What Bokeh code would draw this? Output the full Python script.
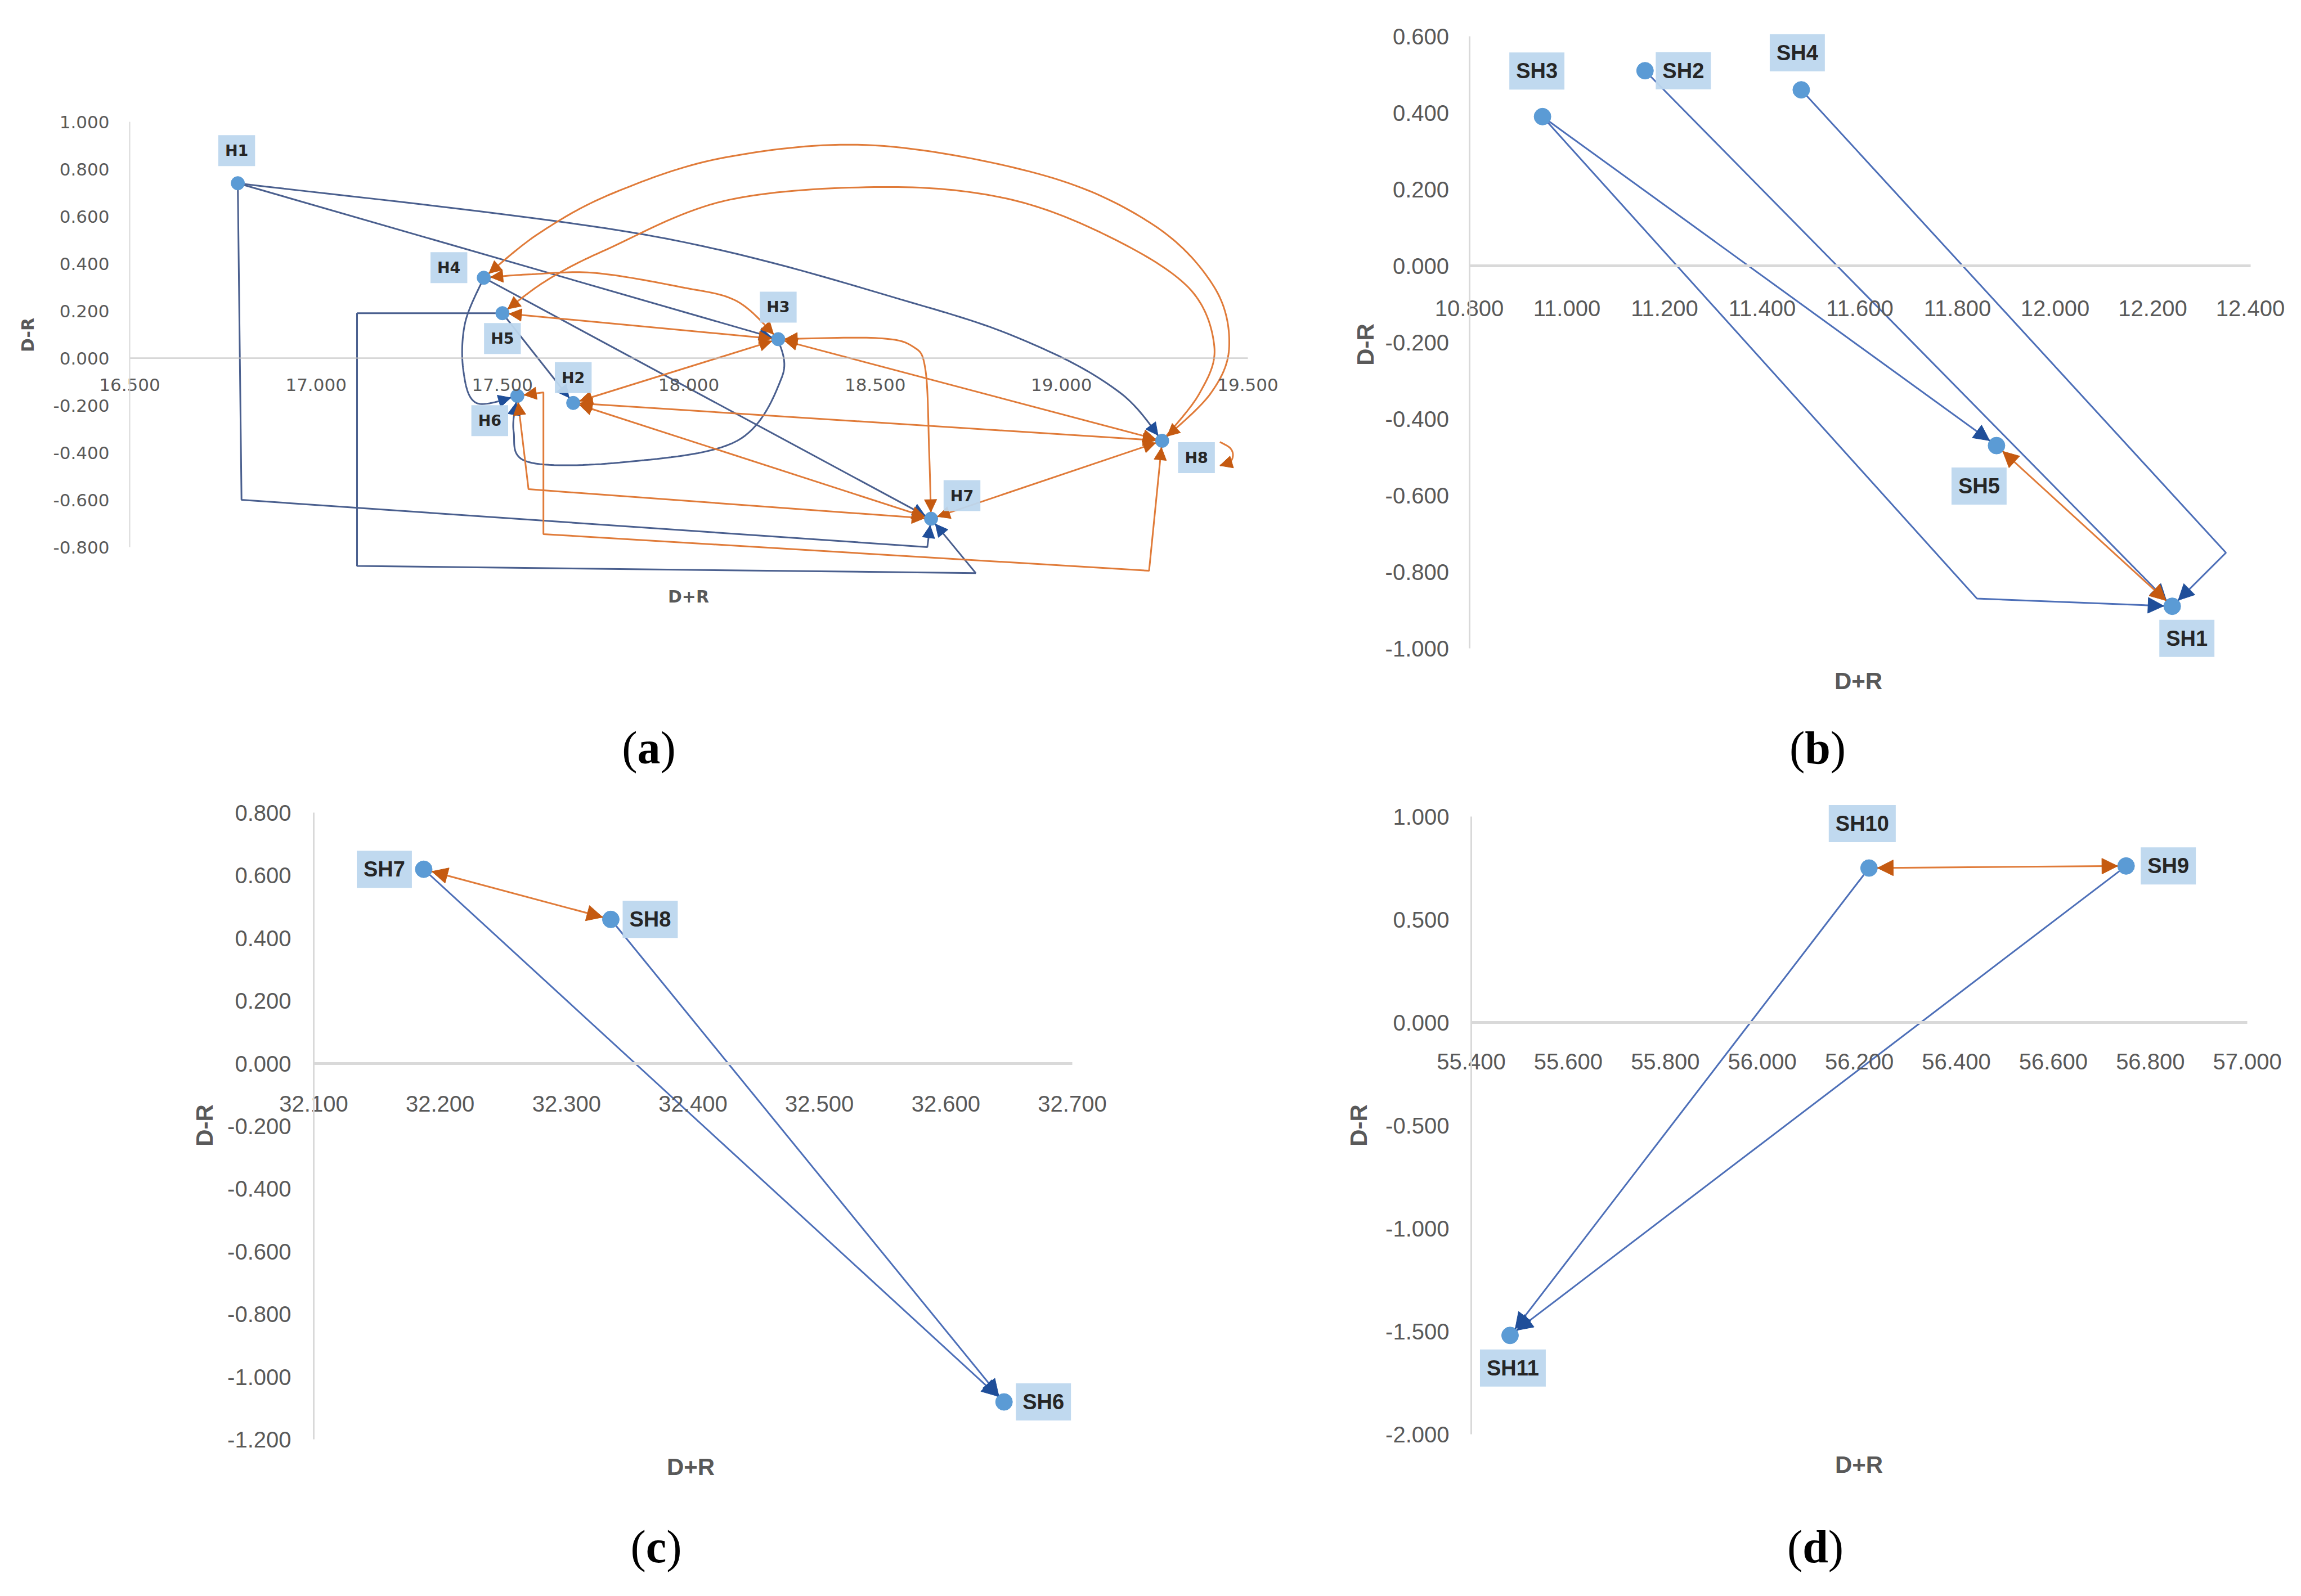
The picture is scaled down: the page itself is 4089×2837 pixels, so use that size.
import numpy as np
from bokeh.plotting import figure
from bokeh.models import (Range1d, LinearAxis, FixedTicker, NumeralTickFormatter,
                          Arrow, NormalHead, Label, Div, ColumnDataSource, Spacer)
from bokeh.layouts import column, row
from bokeh.embed import file_html
from bokeh.resources import INLINE

# ======================= DATA =======================
# ---- panel (a) ----
a_nodes = ["H1", "H2", "H3", "H4", "H5", "H6", "H7", "H8"]
a_sum = [16.79, 17.69, 18.24, 17.45, 17.50, 17.54, 18.65, 19.27]     # D+R
a_diff = [0.74, -0.19, 0.08, 0.34, 0.19, -0.16, -0.68, -0.35]        # D-R
a_xticks = [16.5, 17.0, 17.5, 18.0, 18.5, 19.0, 19.5]
a_yticks = [-0.8, -0.6, -0.4, -0.2, 0.0, 0.2, 0.4, 0.6, 0.8, 1.0]
# (from, to, shape, route points, arrow heads)
a_blue_edges = [
    ("H1", "H3", "line", [], "end"),
    ("H1", "H8", "curve", [(17.89, 0.52), (18.63, 0.22), (18.95, 0.04), (19.16, -0.15)], "end"),
    ("H1", "H7", "elbow", [(16.80, -0.60), (18.64, -0.80)], "end"),
    ("H4", "H7", "line", [], "end"),
    ("H4", "H6", "curve", [(17.40, 0.15), (17.395, -0.05), (17.43, -0.19)], "end"),
    ("H5", "H2", "line", [], "end"),
    ("H5", "H7", "elbow", [(17.11, 0.19), (17.11, -0.88), (18.77, -0.91)], "end"),
    ("H3", "H6", "curve", [(18.25, -0.08), (18.13, -0.35), (17.83, -0.44), (17.57, -0.44), (17.53, -0.31)], "end"),
]
a_orange_edges = [
    ("H4", "H3", "curve", [(17.58, 0.355), (17.75, 0.36), (17.98, 0.30), (18.13, 0.24)], "both"),
    ("H5", "H3", "line", [], "both"),
    ("H2", "H3", "line", [], "both"),
    ("H2", "H8", "line", [], "both"),
    ("H3", "H8", "line", [], "both"),
    ("H2", "H7", "line", [], "both"),
    ("H7", "H8", "line", [], "both"),
    ("H3", "H7", "curve", [(18.50, 0.085), (18.60, 0.05), (18.635, -0.05), (18.645, -0.40)], "both"),
    ("H7", "H6", "elbow", [(17.57, -0.555)], "both"),
    ("H8", "H6", "elbow", [(19.235, -0.90), (17.61, -0.745), (17.61, -0.145)], "both"),
    ("H8", "H4", "curve", [(19.40, -0.15), (19.45, 0.05), (19.41, 0.30), (19.25, 0.56), (18.96, 0.77),
                           (18.50, 0.90), (18.10, 0.85), (17.80, 0.70), (17.60, 0.53)], "both"),
    ("H8", "H5", "curve", [(19.37, -0.15), (19.41, 0.05), (19.34, 0.30), (19.12, 0.52), (18.85, 0.676),
                           (18.52, 0.724), (18.10, 0.667), (17.78, 0.46), (17.62, 0.33)], "end"),
    ("H8", "H8", "loop", [(19.425, -0.355), (19.452, -0.38), (19.46, -0.41), (19.452, -0.44), (19.425, -0.455)], "end"),
]

# ---- panel (b) ----
b_nodes = ["SH1", "SH2", "SH3", "SH4", "SH5"]
b_sum = [12.24, 11.16, 10.95, 11.48, 11.88]
b_diff = [-0.89, 0.51, 0.39, 0.46, -0.47]
b_xticks = [10.8, 11.0, 11.2, 11.4, 11.6, 11.8, 12.0, 12.2, 12.4]
b_yticks = [-1.0, -0.8, -0.6, -0.4, -0.2, 0.0, 0.2, 0.4, 0.6]
b_blue_edges = [
    ("SH3", "SH5", "line", [], "end"),
    ("SH2", "SH1", "line", [], "end"),
    ("SH4", "SH1", "elbow", [(12.35, -0.75)], "end"),
    ("SH3", "SH1", "elbow", [(11.84, -0.87)], "end"),
]
b_orange_edges = [("SH5", "SH1", "line", [], "both")]

# ---- panel (c) ----
c_nodes = ["SH6", "SH7", "SH8"]
c_sum = [32.646, 32.187, 32.335]
c_diff = [-1.08, 0.62, 0.46]
c_xticks = [32.1, 32.2, 32.3, 32.4, 32.5, 32.6, 32.7]
c_yticks = [-1.2, -1.0, -0.8, -0.6, -0.4, -0.2, 0.0, 0.2, 0.4, 0.6, 0.8]
c_blue_edges = [("SH7", "SH6", "line", [], "end"), ("SH8", "SH6", "line", [], "end")]
c_orange_edges = [("SH7", "SH8", "line", [], "both")]

# ---- panel (d) ----
d_nodes = ["SH9", "SH10", "SH11"]
d_sum = [56.75, 56.22, 55.48]
d_diff = [0.76, 0.75, -1.52]
d_xticks = [55.4, 55.6, 55.8, 56.0, 56.2, 56.4, 56.6, 56.8, 57.0]
d_yticks = [-2.0, -1.5, -1.0, -0.5, 0.0, 0.5, 1.0]
d_blue_edges = [("SH10", "SH11", "line", [], "end"), ("SH9", "SH11", "line", [], "end")]
d_orange_edges = [("SH9", "SH10", "line", [], "both")]

# ======================= STYLE =======================
MARKER = "#5B9BD5"
LABEL_BG = "#BDD7EE"
BLUE_HEAD = "#1F4E99"
ORANGE_LINE = "#E07B39"
ORANGE_HEAD = "#C55A11"
TICK_COLOR = "#595959"


def catmull(pts, n=18):
    P = [np.array(q, dtype=float) for q in pts]
    P = [P[0]] + P + [P[-1]]
    out = []
    for i in range(1, len(P) - 2):
        p0, p1, p2, p3 = P[i - 1], P[i], P[i + 1], P[i + 2]
        for t in np.linspace(0, 1, n, endpoint=False):
            t2, t3 = t * t, t * t * t
            out.append(0.5 * (2 * p1 + (-p0 + p2) * t + (2 * p0 - 5 * p1 + 4 * p2 - p3) * t2
                              + (-p0 + 3 * p1 - 3 * p2 + p3) * t3))
    out.append(P[-2])
    return out


def make_panel(names, xs, ys, blue_edges, orange_edges, xticks, yticks, lab_dx, lab_dy, st):
    W, H = st["W"], st["H"]
    kx, ky = st["kx"], st["ky"]                      # pixels per data unit
    x0 = xticks[0] - st["ax_px"] / kx               # y axis (x = first tick) sits ax_px from left
    x1 = x0 + W / kx
    y1 = st["ay_px"] / ky                           # D-R = 0 sits ay_px from top
    y0 = y1 - H / ky
    to_px = lambda x, y: np.array([(x - x0) * kx, (y - y0) * ky])
    to_dt = lambda q: ((q[0] / kx) + x0, (q[1] / ky) + y0)

    p = figure(width=W, height=H, x_range=Range1d(x0, x1), y_range=Range1d(y0, y1),
               x_axis_location=None, y_axis_location=None,
               output_backend="svg", toolbar_location=None,
               min_border=0, min_border_left=0, min_border_right=0,
               min_border_top=0, min_border_bottom=0,
               background_fill_color="white", border_fill_color="white")
    p.outline_line_color = None
    p.grid.visible = False

    # ---- y axis at D+R = first tick ----
    yax = LinearAxis(fixed_location=xticks[0], ticker=FixedTicker(ticks=yticks),
                     formatter=NumeralTickFormatter(format="0.000"),
                     bounds=(min(yticks), max(yticks)))
    yax.axis_line_color = "#D9D9D9"
    yax.axis_line_width = st["yaxw"]
    yax.major_tick_line_color = None
    yax.minor_tick_line_color = None
    yax.major_tick_in = 0
    yax.major_tick_out = 0
    yax.major_label_standoff = st["ylab_so"]
    yax.major_label_text_font = st["tick_font"]
    yax.major_label_text_font_size = st["tick_size"]
    yax.major_label_text_color = TICK_COLOR
    p.add_layout(yax, "left")

    # ---- x axis at D-R = 0 ----
    xax = LinearAxis(fixed_location=0, ticker=FixedTicker(ticks=xticks),
                     formatter=NumeralTickFormatter(format="0.000"),
                     bounds=(xticks[0], xticks[-1]))
    xax.axis_line_color = st["xaxc"]
    xax.axis_line_width = st["xaxw"]
    xax.major_tick_line_color = None
    xax.minor_tick_line_color = None
    xax.major_tick_in = 0
    xax.major_tick_out = 0
    xax.major_label_standoff = st["xlab_so"]
    xax.major_label_text_font = st["tick_font"]
    xax.major_label_text_font_size = st["tick_size"]
    xax.major_label_text_color = TICK_COLOR
    p.add_layout(xax, "below")

    # ---- axis titles ----
    tx, ty = st["dr_pos"]
    p.add_layout(Label(x=x0 + tx / kx, y=y1 - ty / ky, text="D-R", angle=np.pi / 2,
                       text_align="center", text_baseline="middle",
                       text_font=st["title_font"], text_font_size=st["title_size"],
                       text_font_style="bold", text_color=TICK_COLOR))
    tx, ty = st["ds_pos"]
    p.add_layout(Label(x=x0 + tx / kx, y=y1 - ty / ky, text="D+R",
                       text_align="center", text_baseline="middle",
                       text_font=st["title_font"], text_font_size=st["title_size"],
                       text_font_style="bold", text_color=TICK_COLOR))

    nodes = {n: (x, y) for n, x, y in zip(names, xs, ys)}
    r = st["r"]

    def process(edges):
        lx, ly = [], []
        hd = dict(xs=[], ys=[], xe=[], ye=[])
        for src, dst, shape, via, heads in edges:
            if shape == "loop":
                pts = [to_px(*v) for v in via]
            else:
                pts = [to_px(*nodes[src])] + [to_px(*v) for v in via] + [to_px(*nodes[dst])]
            if shape in ("curve", "loop"):
                pts = catmull(pts)
            dpts = [to_dt(q) for q in pts]
            lx.append([q[0] for q in dpts])
            ly.append([q[1] for q in dpts])
            rr = 0 if shape == "loop" else r
            paths = [pts] if heads == "end" else [pts, pts[::-1]]
            for path in paths:
                end = np.array(path[-1])
                prev = np.array(path[0])
                for q in reversed(path[:-1]):
                    if np.hypot(*(np.array(q) - end)) > rr + 14:
                        prev = np.array(q)
                        break
                u = (end - prev) / np.linalg.norm(end - prev)
                tip = end - rr * u
                start = tip - 25 * u
                sx, sy = to_dt(start)
                ex, ey = to_dt(tip)
                hd["xs"].append(sx); hd["ys"].append(sy)
                hd["xe"].append(ex); hd["ye"].append(ey)
        return lx, ly, hd

    blx, bly, bhd = process(blue_edges)
    olx, oly, ohd = process(orange_edges)
    p.multi_line(blx, bly, line_color=st["blue_line"], line_width=st["lw"])
    p.multi_line(olx, oly, line_color=ORANGE_LINE, line_width=st["lw"])
    p.scatter(xs, ys, marker="circle", size=st["msize"], fill_color=MARKER, line_color=MARKER)

    for hdict, col in ((bhd, BLUE_HEAD), (ohd, ORANGE_HEAD)):
        if hdict["xs"]:
            p.add_layout(Arrow(source=ColumnDataSource(hdict), x_start="xs", y_start="ys",
                               x_end="xe", y_end="ye", line_alpha=0, line_width=1,
                               end=NormalHead(size=st["head"], fill_color=col, line_color=col,
                                              line_width=1)))

    for n, x, y, dx, dy in zip(names, xs, ys, lab_dx, lab_dy):
        p.add_layout(Label(x=x, y=y, x_offset=dx, y_offset=dy, text=n,
                           text_align="center", text_baseline="middle",
                           text_font=st["lab_font"], text_font_size=st["lab_size"],
                           text_font_style="bold", text_color="#262626",
                           background_fill_color=LABEL_BG, background_fill_alpha=0.95,
                           padding=st["pad"]))
    return p


# geometry in canvas pixels of each figure (figure a/c start at page x 8, b/d at page x 2308)
st_a = dict(W=2300, H=1252, kx=662.33, ky=420.0, ax_px=222, ay_px=628,
            dr_pos=(41, 587), ds_pos=(1215, 1052),
            tick_font="DejaVu Sans", tick_size="31px", title_font="DejaVu Sans", title_size="30px",
            lab_font="DejaVu Sans", lab_size="27px", pad=12, msize=24, head=22, r=12, lw=3,
            yaxw=2, xaxw=2, xaxc="#BFBFBF", ylab_so=36, xlab_so=36, blue_line="#4A5F8E")
common = dict(tick_font="Liberation Sans", tick_size="40px", title_font="Liberation Sans",
              title_size="42px", lab_font="Liberation Sans", lab_size="38px", pad=12, msize=30,
              head=28, r=15, lw=3, yaxw=3, xaxw=5, xaxc="#D9D9D9", blue_line="#4D6FB8")
st_b = dict(common, W=1769, H=1252, kx=867.5, ky=680.0, ax_px=302.5, ay_px=464,
            dr_pos=(118, 604), ds_pos=(994, 1202), ylab_so=36, xlab_so=61)
st_c = dict(common, W=2300, H=1280, kx=2246.7, ky=557.0, ax_px=549, ay_px=490,
            dr_pos=(355, 600), ds_pos=(1219, 1207), ylab_so=40, xlab_so=57)
st_d = dict(common, W=1769, H=1280, kx=862.0, ky=366.0, ax_px=306, ay_px=417,
            dr_pos=(106, 600), ds_pos=(995, 1203), ylab_so=39, xlab_so=55)

# label offsets in screen pixels (style, not data)
a_dx = [-2, 0, 0, -62, 0, -49, 55, 61]
a_dy = [58, 45, 57, 18, -45, -44, 41, -30]
b_dx = [26, 68, -10, -7, -31]
b_dy = [-57, 0, 81, 66, -72]
c_dx = [70, -70, 70]
c_dy = [0, 0, 0]
d_dx = [75, -12, 5]
d_dy = [0, 79, -58]

pa = make_panel(a_nodes, a_sum, a_diff, a_blue_edges, a_orange_edges, a_xticks, a_yticks, a_dx, a_dy, st_a)
pb = make_panel(b_nodes, b_sum, b_diff, b_blue_edges, b_orange_edges, b_xticks, b_yticks, b_dx, b_dy, st_b)
pc = make_panel(c_nodes, c_sum, c_diff, c_blue_edges, c_orange_edges, c_xticks, c_yticks, c_dx, c_dy, st_c)
pd = make_panel(d_nodes, d_sum, d_diff, d_blue_edges, d_orange_edges, d_xticks, d_yticks, d_dx, d_dy, st_d)


def caption(letter, width):
    html = ('<div style="width:%dpx;text-align:center;font-family:\'Liberation Serif\',serif;'
            'font-size:82px;line-height:140px;color:#000;">(<b>%s</b>)</div>' % (width, letter))
    return Div(text=html, width=width, height=140, margin=0)


layout = column(
    row(pa, pb),
    row(caption("a", 2290), Spacer(width=182, height=140, margin=0), caption("b", 1500)),
    row(pc, pd),
    row(caption("c", 2316), Spacer(width=152, height=140, margin=0), caption("d", 1500)),
    margin=(8, 0, 0, 8),
)

open("out.html", "w").write(file_html(layout, INLINE, title="DEMATEL cause-effect diagrams"))
